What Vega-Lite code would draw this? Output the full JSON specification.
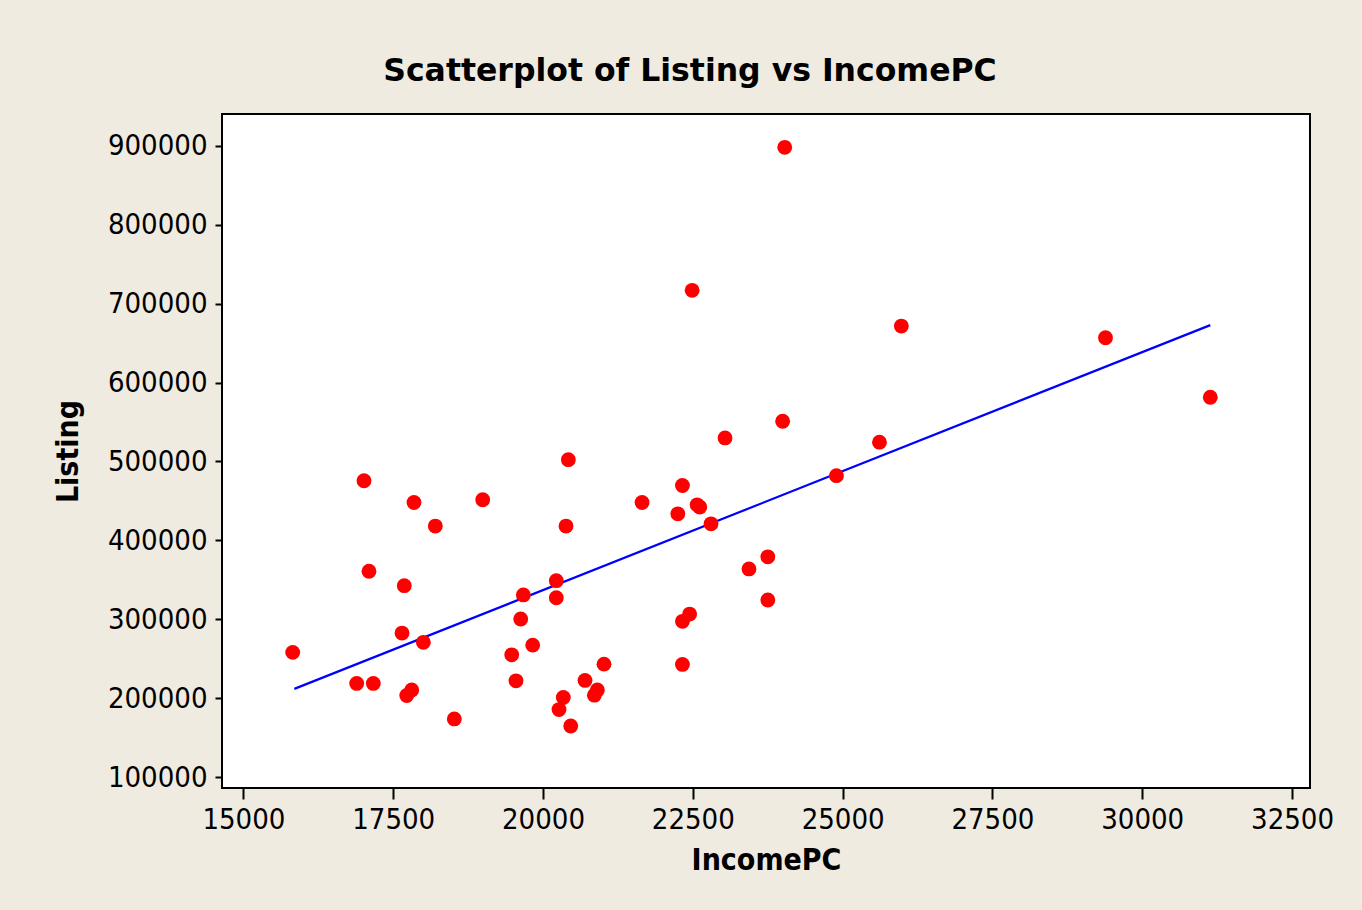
{
  "$schema": "https://vega.github.io/schema/vega-lite/v6.json",
  "width": 1088,
  "height": 674,
  "autosize": {"type": "none"},
  "padding": {"left": 222, "top": 114, "right": 52, "bottom": 122},
  "background": "#EFEBE0",
  "title": {
    "text": "Scatterplot of Listing vs IncomePC",
    "font": "DejaVu Sans",
    "fontSize": 31.5,
    "fontWeight": "bold",
    "color": "#000000",
    "anchor": "middle",
    "dx": -76,
    "offset": 27
  },
  "config": {
    "view": {"stroke": "#000000", "strokeWidth": 2, "fill": "#FFFFFF"},
    "axis": {
      "grid": false,
      "domain": false,
      "ticks": true,
      "tickColor": "#000000",
      "tickWidth": 2,
      "labelFont": "DejaVu Sans Condensed",
      "labelFontSize": 29,
      "labelColor": "#000000",
      "titleFont": "DejaVu Sans Condensed",
      "titleFontSize": 30,
      "titleFontWeight": "bold",
      "titleColor": "#000000"
    }
  },
  "datasets": {
    "points": [
      {"IncomePC": 15823, "Listing": 258000},
      {"IncomePC": 16891, "Listing": 218600},
      {"IncomePC": 17168, "Listing": 218600},
      {"IncomePC": 17013, "Listing": 475600},
      {"IncomePC": 17096, "Listing": 360900},
      {"IncomePC": 17685, "Listing": 342600},
      {"IncomePC": 17647, "Listing": 282500},
      {"IncomePC": 17726, "Listing": 203300},
      {"IncomePC": 17809, "Listing": 210400},
      {"IncomePC": 17847, "Listing": 448000},
      {"IncomePC": 18003, "Listing": 270700},
      {"IncomePC": 18203, "Listing": 418100},
      {"IncomePC": 18520, "Listing": 173600},
      {"IncomePC": 18994, "Listing": 451500},
      {"IncomePC": 19478, "Listing": 254900},
      {"IncomePC": 19550, "Listing": 221900},
      {"IncomePC": 19628, "Listing": 300300},
      {"IncomePC": 19672, "Listing": 330800},
      {"IncomePC": 19828, "Listing": 267200},
      {"IncomePC": 20222, "Listing": 348900},
      {"IncomePC": 20222, "Listing": 327300},
      {"IncomePC": 20267, "Listing": 185500},
      {"IncomePC": 20339, "Listing": 200800},
      {"IncomePC": 20384, "Listing": 418100},
      {"IncomePC": 20423, "Listing": 502300},
      {"IncomePC": 20463, "Listing": 164700},
      {"IncomePC": 20701, "Listing": 222400},
      {"IncomePC": 20857, "Listing": 203700},
      {"IncomePC": 20907, "Listing": 210400},
      {"IncomePC": 21018, "Listing": 243100},
      {"IncomePC": 21653, "Listing": 448000},
      {"IncomePC": 22250, "Listing": 433700},
      {"IncomePC": 22327, "Listing": 469600},
      {"IncomePC": 22327, "Listing": 297400},
      {"IncomePC": 22327, "Listing": 242700},
      {"IncomePC": 22447, "Listing": 306600},
      {"IncomePC": 22489, "Listing": 717000},
      {"IncomePC": 22572, "Listing": 445100},
      {"IncomePC": 22616, "Listing": 442200},
      {"IncomePC": 22804, "Listing": 421000},
      {"IncomePC": 23038, "Listing": 529900},
      {"IncomePC": 23437, "Listing": 363800},
      {"IncomePC": 23752, "Listing": 379100},
      {"IncomePC": 23752, "Listing": 324400},
      {"IncomePC": 23999, "Listing": 551000},
      {"IncomePC": 24034, "Listing": 898300},
      {"IncomePC": 24897, "Listing": 482000},
      {"IncomePC": 25615, "Listing": 524500},
      {"IncomePC": 25980, "Listing": 671700},
      {"IncomePC": 29387, "Listing": 656900},
      {"IncomePC": 31136, "Listing": 581500}
    ],
    "fit": [
      {"IncomePC": 15850, "Listing": 211700},
      {"IncomePC": 31136, "Listing": 672900}
    ]
  },
  "encoding": {
    "x": {
      "field": "IncomePC",
      "type": "quantitative",
      "scale": {"domain": [14643, 32800], "nice": false, "zero": false},
      "axis": {
        "title": "IncomePC",
        "values": [15000, 17500, 20000, 22500, 25000, 27500, 30000, 32500],
        "format": "d",
        "tickSize": 11,
        "labelPadding": 6,
        "titlePadding": 11
      }
    },
    "y": {
      "field": "Listing",
      "type": "quantitative",
      "scale": {"domain": [86054, 940570], "nice": false, "zero": false},
      "axis": {
        "title": "Listing",
        "values": [100000, 200000, 300000, 400000, 500000, 600000, 700000, 800000, 900000],
        "format": "d",
        "tickSize": 7,
        "labelPadding": 8,
        "titlePadding": 24
      }
    }
  },
  "layer": [
    {
      "data": {"name": "fit"},
      "mark": {"type": "line", "color": "#0000FF", "strokeWidth": 2.2}
    },
    {
      "data": {"name": "points"},
      "mark": {"type": "circle", "size": 220, "color": "#FF0000", "opacity": 1}
    }
  ]
}
